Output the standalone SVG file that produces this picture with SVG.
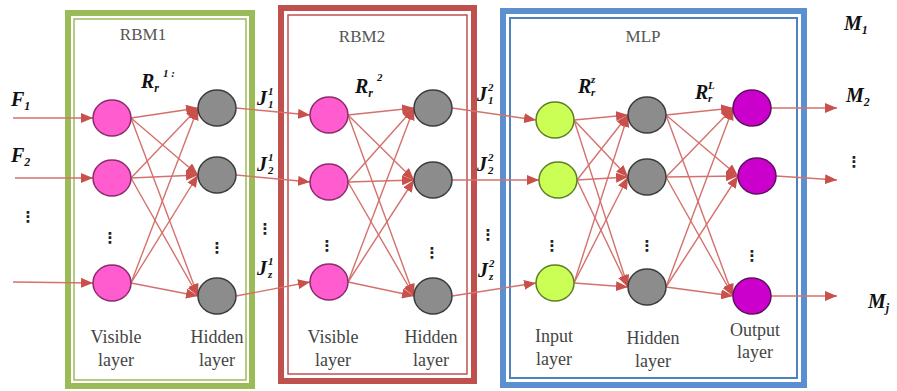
<svg xmlns="http://www.w3.org/2000/svg" width="897" height="391" viewBox="0 0 897 391">
<style>
.conn line{stroke:#d4716d;stroke-width:1.4;fill:none;marker-end:url(#ah)}
.pink{fill:#ff5ccf;stroke:#8b2c6a;stroke-width:1.5}
.gray{fill:#8c8c8c;stroke:#3c3c3c;stroke-width:1.5}
.lime{fill:#ccff55;stroke:#5d7f28;stroke-width:1.5}
.purp{fill:#cc00cc;stroke:#5e1060;stroke-width:1.5}
.title{font-family:"Liberation Serif",serif;font-size:17px;fill:#555;text-anchor:middle}
.lab{font-family:"Liberation Serif",serif;font-size:18px;fill:#444;text-anchor:middle}
.math{font-family:"Liberation Serif",serif;font-weight:bold;font-style:italic;font-size:20px;fill:#111}
.sm{font-family:"Liberation Serif",serif;font-weight:bold;font-style:italic;font-size:11px;fill:#111}
.sub{font-size:12px}
.dots{font-family:"DejaVu Sans",sans-serif;font-weight:bold;font-size:15px;fill:#222;text-anchor:middle}
</style>
<defs>
<marker id="ah" markerUnits="userSpaceOnUse" markerWidth="12" markerHeight="10" viewBox="0 0 12 10" refX="12" refY="5" orient="auto">
<path d="M0,0 L12,5 L0,10 z" fill="#c9504b"/>
</marker>
</defs>

<g id="box-rbm1">
<rect x="68" y="13" width="184" height="373" fill="none" stroke="#9bbb59" stroke-width="6"/>
<rect x="74" y="19" width="172" height="361" fill="none" stroke="#9bbb59" stroke-width="1.5"/>
<text class="title" x="143" y="40">RBM1</text>
</g>
<g id="box-rbm2">
<rect x="281" y="8" width="193" height="373" fill="none" stroke="#c0504d" stroke-width="6"/>
<rect x="288" y="15" width="179" height="359" fill="none" stroke="#c0504d" stroke-width="1.5"/>
<text class="title" x="362" y="42">RBM2</text>
</g>
<g id="box-mlp">
<rect x="503" y="11" width="301" height="374" fill="none" stroke="#5b8fd0" stroke-width="6"/>
<rect x="510" y="18" width="287" height="360" fill="none" stroke="#4f81bd" stroke-width="2"/>
<text class="title" x="643" y="42">MLP</text>
</g>

<g id="connectors" class="conn">
<line x1="13" y1="118" x2="93" y2="118"/>
<line x1="15" y1="178" x2="93" y2="178"/>
<line x1="13" y1="282" x2="93" y2="283"/>

<line x1="131" y1="118" x2="198" y2="108"/>
<line x1="131" y1="118" x2="198" y2="175"/>
<line x1="131" y1="118" x2="198" y2="296"/>
<line x1="131" y1="178" x2="198" y2="108"/>
<line x1="131" y1="178" x2="198" y2="175"/>
<line x1="131" y1="178" x2="198" y2="296"/>
<line x1="131" y1="283" x2="198" y2="108"/>
<line x1="131" y1="283" x2="198" y2="175"/>
<line x1="131" y1="283" x2="198" y2="296"/>

<line x1="236" y1="108" x2="310" y2="115"/>
<line x1="236" y1="175" x2="310" y2="182"/>
<line x1="236" y1="296" x2="310" y2="282"/>

<line x1="348" y1="115" x2="414" y2="108"/>
<line x1="348" y1="115" x2="414" y2="180"/>
<line x1="348" y1="115" x2="414" y2="296"/>
<line x1="348" y1="182" x2="414" y2="108"/>
<line x1="348" y1="182" x2="414" y2="180"/>
<line x1="348" y1="182" x2="414" y2="296"/>
<line x1="348" y1="282" x2="414" y2="108"/>
<line x1="348" y1="282" x2="414" y2="180"/>
<line x1="348" y1="282" x2="414" y2="296"/>

<line x1="452" y1="108" x2="536" y2="120"/>
<line x1="452" y1="180" x2="539" y2="180"/>
<line x1="452" y1="296" x2="536" y2="283"/>

<line x1="574" y1="120" x2="628" y2="115"/>
<line x1="574" y1="120" x2="628" y2="177"/>
<line x1="574" y1="120" x2="628" y2="287"/>
<line x1="577" y1="180" x2="628" y2="115"/>
<line x1="577" y1="180" x2="628" y2="177"/>
<line x1="577" y1="180" x2="628" y2="287"/>
<line x1="574" y1="283" x2="628" y2="115"/>
<line x1="574" y1="283" x2="628" y2="177"/>
<line x1="574" y1="283" x2="628" y2="287"/>

<line x1="666" y1="115" x2="733" y2="108"/>
<line x1="666" y1="115" x2="738" y2="176"/>
<line x1="666" y1="115" x2="733" y2="296"/>
<line x1="666" y1="177" x2="733" y2="108"/>
<line x1="666" y1="177" x2="738" y2="176"/>
<line x1="666" y1="177" x2="733" y2="296"/>
<line x1="666" y1="287" x2="733" y2="108"/>
<line x1="666" y1="287" x2="738" y2="176"/>
<line x1="666" y1="287" x2="733" y2="296"/>

<line x1="771" y1="108" x2="837" y2="108"/>
<line x1="776" y1="176" x2="837" y2="180"/>
<line x1="771" y1="296" x2="837" y2="296"/>
</g>

<g id="rbm1-visible">
<ellipse class="pink" cx="112" cy="118" rx="19" ry="18"/>
<ellipse class="pink" cx="112" cy="178" rx="19" ry="18"/>
<ellipse class="pink" cx="112" cy="283" rx="19" ry="18"/>
<text class="dots" x="110" y="243">⋮</text>
<text class="lab" x="116" y="343">Visible</text>
<text class="lab" x="116" y="366">layer</text>
</g>
<g id="rbm1-hidden">
<ellipse class="gray" cx="217" cy="108" rx="19" ry="18"/>
<ellipse class="gray" cx="217" cy="175" rx="19" ry="18"/>
<ellipse class="gray" cx="217" cy="296" rx="19" ry="18"/>
<text class="dots" x="217" y="253">⋮</text>
<text class="lab" x="217" y="343">Hidden</text>
<text class="lab" x="217" y="366">layer</text>
</g>
<g id="rbm2-visible">
<ellipse class="pink" cx="329" cy="115" rx="19" ry="18"/>
<ellipse class="pink" cx="329" cy="182" rx="19" ry="18"/>
<ellipse class="pink" cx="329" cy="282" rx="19" ry="18"/>
<text class="dots" x="327" y="251">⋮</text>
<text class="lab" x="333" y="343">Visible</text>
<text class="lab" x="333" y="366">layer</text>
</g>
<g id="rbm2-hidden">
<ellipse class="gray" cx="433" cy="108" rx="19" ry="18"/>
<ellipse class="gray" cx="433" cy="180" rx="19" ry="18"/>
<ellipse class="gray" cx="433" cy="296" rx="19" ry="18"/>
<text class="dots" x="432" y="258">⋮</text>
<text class="lab" x="431" y="343">Hidden</text>
<text class="lab" x="431" y="366">layer</text>
</g>
<g id="mlp-input">
<ellipse class="lime" cx="555" cy="120" rx="19" ry="18"/>
<ellipse class="lime" cx="558" cy="180" rx="19" ry="18"/>
<ellipse class="lime" cx="555" cy="283" rx="19" ry="18"/>
<text class="dots" x="552" y="251">⋮</text>
<text class="lab" x="554" y="342">Input</text>
<text class="lab" x="554" y="365">layer</text>
</g>
<g id="mlp-hidden">
<ellipse class="gray" cx="647" cy="115" rx="19" ry="18"/>
<ellipse class="gray" cx="647" cy="177" rx="19" ry="18"/>
<ellipse class="gray" cx="647" cy="287" rx="19" ry="18"/>
<text class="dots" x="647" y="251">⋮</text>
<text class="lab" x="653" y="344">Hidden</text>
<text class="lab" x="653" y="367">layer</text>
</g>
<g id="mlp-output">
<ellipse class="purp" cx="752" cy="108" rx="19" ry="18"/>
<ellipse class="purp" cx="757" cy="176" rx="19" ry="18"/>
<ellipse class="purp" cx="752" cy="296" rx="19" ry="18"/>
<text class="dots" x="752" y="261">⋮</text>
<text class="lab" x="755" y="336">Output</text>
<text class="lab" x="755" y="358">layer</text>
</g>

<g id="labels">
<text class="math" x="11" y="106">F<tspan class="sub" dy="4">1</tspan></text>
<text class="math" x="11" y="162">F<tspan class="sub" dy="4">2</tspan></text>
<text class="dots" x="28" y="222">⋮</text>

<text class="math" x="141" y="88">R<tspan class="sub" dy="4">r</tspan></text>
<text class="sm" x="163" y="77">1 :</text>

<text class="math" x="257" y="105">J</text>
<text class="sm" x="268" y="95">1</text>
<text class="sm" x="268" y="108">1</text>
<text class="math" x="257" y="171">J</text>
<text class="sm" x="268" y="161">1</text>
<text class="sm" x="268" y="174">2</text>
<text class="dots" x="265" y="234">⋮</text>
<text class="math" x="257" y="275">J</text>
<text class="sm" x="268" y="265">1</text>
<text class="sm" x="268" y="278">z</text>

<text class="math" x="355" y="93">R<tspan class="sub" dy="4">r</tspan></text>
<text class="sm" x="377" y="81">2</text>

<text class="math" x="477" y="101">J</text>
<text class="sm" x="488" y="91">2</text>
<text class="sm" x="488" y="104">1</text>
<text class="math" x="477" y="171">J</text>
<text class="sm" x="488" y="161">2</text>
<text class="sm" x="488" y="174">2</text>
<text class="dots" x="488" y="240">⋮</text>
<text class="math" x="478" y="277">J</text>
<text class="sm" x="489" y="267">2</text>
<text class="sm" x="489" y="280">z</text>

<text class="math" x="578" y="93">R</text>
<text class="sm" x="591" y="83">z</text>
<text class="sm" x="591" y="96">r</text>
<text class="math" x="695" y="99">R</text>
<text class="sm" x="708" y="89">L</text>
<text class="sm" x="708" y="102">r</text>

<text class="math" x="844" y="30">M<tspan class="sub" dy="4">1</tspan></text>
<text class="math" x="846" y="102">M<tspan class="sub" dy="4">2</tspan></text>
<text class="dots" x="854" y="167">⋮</text>
<text class="math" x="868" y="308">M<tspan class="sub" dy="4">j</tspan></text>
</g>
</svg>
